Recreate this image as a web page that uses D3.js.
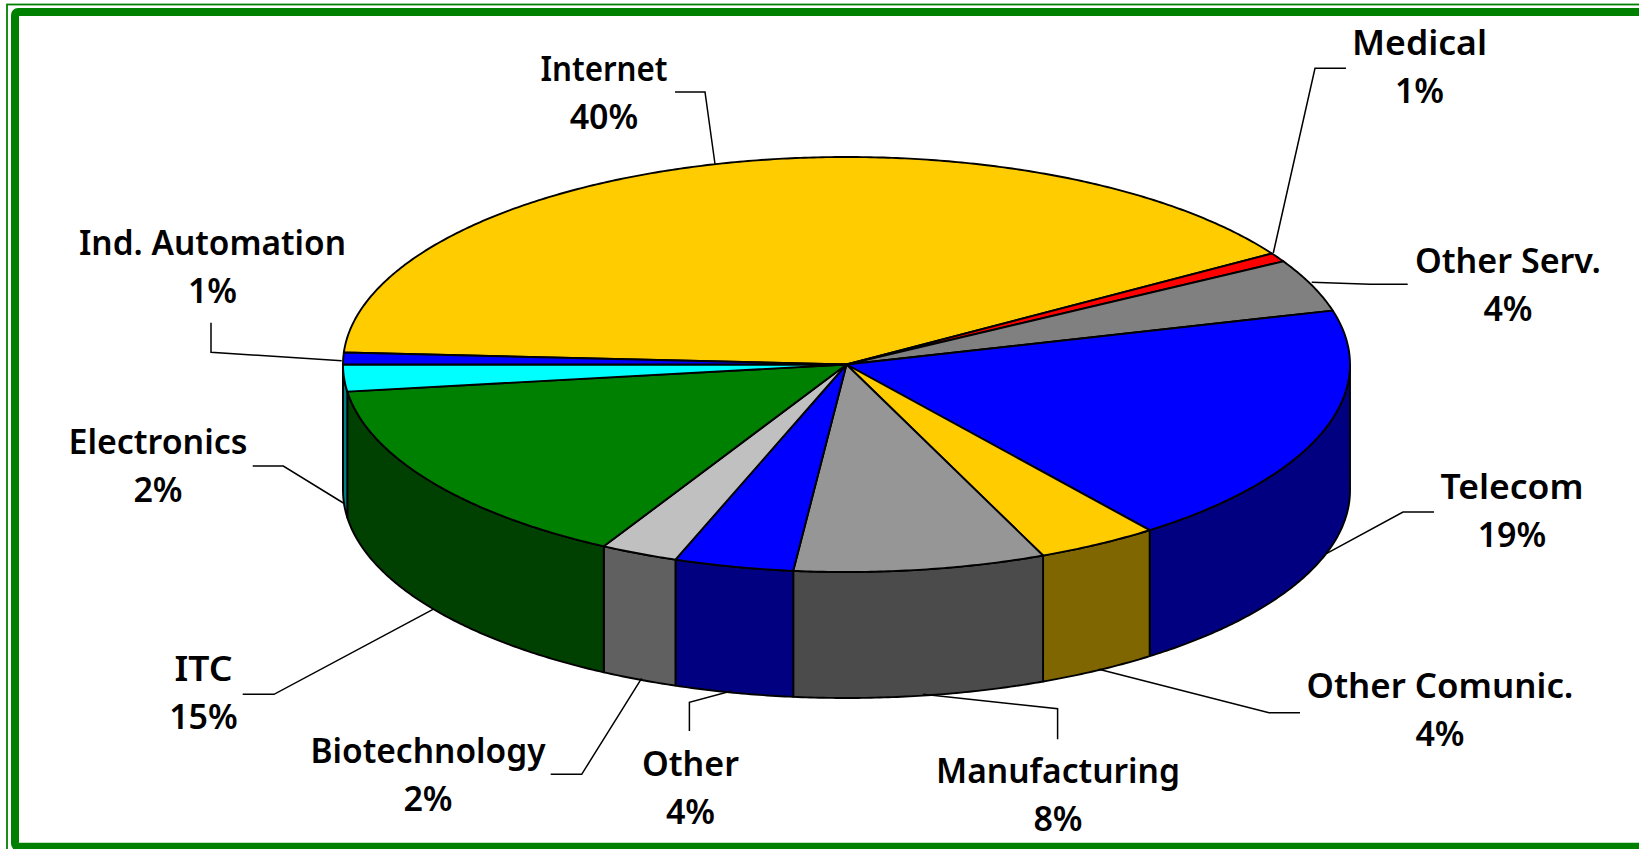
<!DOCTYPE html>
<html>
<head>
<meta charset="utf-8">
<script src="https://cdn.jsdelivr.net/npm/d3@7/dist/d3.min.js"></script>
<style>
html,body{margin:0;padding:0;background:#fff;overflow:hidden}
svg{display:block}
text{font-family:"Noto Sans",sans-serif;font-weight:600;font-size:34px;fill:#000;text-anchor:middle}
</style>
</head>
<body>
<svg id="chart" width="1639" height="849"></svg>
<script>
// Data
const categories = ["Internet","Medical","Other Serv.","Telecom","Other Comunic.","Manufacturing","Other","Biotechnology","ITC","Electronics","Ind. Automation"];
const shares = [40.1,0.7,4.1,18.9,3.9,8.07,3.83,2.49,14.91,2.08,0.92];
const topColors = ["#FFCC00","#FF0000","#808080","#0000FF","#FFCC00","#969696","#0000FF","#C0C0C0","#008000","#00FFFF","#0000FF"];
const wallColors = ["#806600","#800000","#404040","#000080","#806600","#4B4B4B","#000080","#606060","#004000","#008080","#000080"];

// Layout of the annotations: label centre, first baseline, fitted label width, leader polyline
const labelX = [604,1419.5,1508,1512,1440,1058,690.5,428,203.5,158,212.5];
const labelY = [80.7,54.5,272.7,499,698,782.7,776,762.7,680.7,454.3,255];
const labelW = [127,135,186,143,267,244,97,235,58,179,267];
const leaders = [
  [[675,92],[705,92],[715,164]],
  [[1346,68.3],[1315,68.3],[1273.3,253]],
  [[1407.7,284.3],[1370,284.3],[1311.7,282.3]],
  [[1434,512],[1403,512],[1326.8,553.3]],
  [[1300,712.7],[1269,712.7],[1098.8,669.3]],
  [[1057.6,739.3],[1057.6,708.7],[923,694.3]],
  [[689.4,731],[689.4,702.3],[731.4,691]],
  [[550.7,774.3],[581.7,774.3],[641.6,678.3]],
  [[242.7,694.3],[274,694.3],[433,609.3]],
  [[252.7,466],[283.3,466],[345,504]],
  [[211,322.7],[211,352.3],[341.7,360.7]]
];

const cx = 846.5, cy = 364.5, rx = 503.5, ry = 207.5, depth = 126;
const startDeg = 273.3 - 360;
const DEG = Math.PI / 180;

const svg = d3.select("#chart");
const xScale = d3.scaleLinear().domain([-1,1]).range([cx-rx,cx+rx]);
const yScale = d3.scaleLinear().domain([-1,1]).range([cy-ry,cy+ry]);
const line = d3.line().x(d=>d[0]).y(d=>d[1]);

// Frame
svg.append("rect").attr("x",7).attr("y",4.5).attr("width",1700).attr("height",900)
  .attr("fill","none").attr("stroke","#008000").attr("stroke-width",1.8);
svg.append("rect").attr("x",15).attr("y",12).attr("width",1700).attr("height",834.8).attr("rx",3)
  .attr("fill","#fff").attr("stroke","#008000").attr("stroke-width",8);

const pie = d3.pie().sort(null).value(d=>d)
  .startAngle(startDeg*DEG).endAngle((startDeg+360)*DEG);
const arcs = pie(shares);

function rimPoints(a0,a1,dy){
  const n = Math.max(2,Math.ceil((a1-a0)/(0.5*DEG)));
  return d3.range(n+1).map(i=>{
    const a = a0+(a1-a0)*i/n;
    return [xScale(Math.sin(a)), yScale(-Math.cos(a))+dy];
  });
}

// Side walls (only the front half of the rim shows)
const wallG = svg.append("g");
arcs.forEach((d,i)=>{
  const a0 = Math.max(d.startAngle,90*DEG), a1 = Math.min(d.endAngle,270*DEG);
  if(a1<=a0) return;
  const pts = rimPoints(a0,a1,0).concat(rimPoints(a0,a1,depth).reverse());
  wallG.append("path").attr("d",line(pts)+"Z")
    .attr("fill",wallColors[i]).attr("stroke","#000").attr("stroke-width",1.9).attr("stroke-linejoin","round");
});

// Top faces
const topG = svg.append("g");
arcs.forEach((d,i)=>{
  const pts = [[xScale(0),yScale(0)]].concat(rimPoints(d.startAngle,d.endAngle,0));
  topG.append("path").attr("d",line(pts)+"Z")
    .attr("fill",topColors[i]).attr("stroke","#000").attr("stroke-width",1.9).attr("stroke-linejoin","round");
});

// Leaders
leaders.forEach(p=>{
  svg.append("path").attr("d",line(p)).attr("fill","none").attr("stroke","#000").attr("stroke-width",1.5);
});

// Labels
categories.forEach((c,i)=>{
  svg.append("text").attr("x",labelX[i]).attr("y",labelY[i])
    .attr("textLength",labelW[i]).attr("lengthAdjust","spacingAndGlyphs").text(c);
  svg.append("text").attr("x",labelX[i]).attr("y",labelY[i]+48)
    .text(Math.round(shares[i])+"%");
});
</script>
</body>
</html>
